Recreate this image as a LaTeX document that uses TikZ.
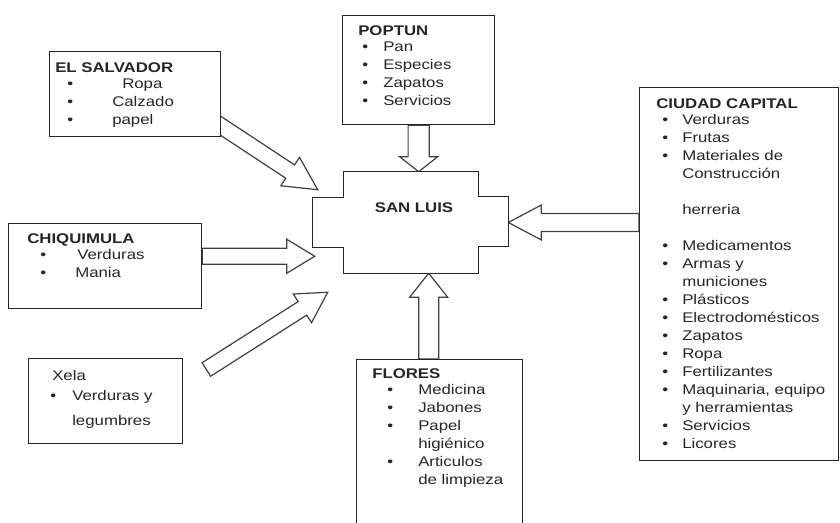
\documentclass[tikz,border=0pt]{standalone}
\usepackage{fontspec}
\setmainfont{Liberation Sans}[FakeStretch=1.2]
\usepackage{tikz}
\usetikzlibrary{calc}
\pgfdeclarelayer{background}
\pgfsetlayers{background,main}

\tikzset{
  outline/.style={draw=black!85, line width=1pt, fill=white},
  box/.style={outline, inner sep=0pt, anchor=north west},
  list/.style={anchor=north west, inner sep=0pt, align=left, text=black!85},
  fatline/.style={draw=black!75, line width=0.9pt, fill=white, line join=miter},
}
% bullet line: indent, bullet width, text
\newcommand{\bulitem}[3]{\hspace*{#1}\makebox[#2][l]{\textbullet}#3}
% hollow block arrow: tail, tip, half shaft, half head, head length
\newcommand{\fatarrow}[5]{%
  \coordinate (head) at ($(#2)!#5!(#1)$);
  \draw[fatline] ($(#1)!#3!90:(#2)$) -- ($(head)!#3!90:(#2)$) -- ($(head)!#4!90:(#2)$)
    -- (#2) -- ($(head)!#4!-90:(#2)$) -- ($(head)!#3!-90:(#2)$) -- ($(#1)!#3!-90:(#2)$) -- cycle;}

\begin{document}
\begin{tikzpicture}[x=0.75pt, y=-0.75pt, font=\fontsize{10.5pt}{13.5pt}\selectfont]
\useasboundingbox (0,0) rectangle (840,523);

% boxes
\node[box, minimum width=128.25pt, minimum height=63.75pt] (salvador) at (49,51) {};
\node[box, minimum width=114pt, minimum height=81.75pt] (poptun) at (342,15) {};
\node[box, minimum width=144.75pt, minimum height=63.75pt] (chiquimula) at (8,223) {};
\node[box, minimum width=115.5pt, minimum height=63.75pt] (xela) at (28,358) {};
\node[box, minimum width=149.25pt, minimum height=279.75pt] (capital) at (639,87) {};
\node[box, minimum width=124.5pt, minimum height=131.25pt] (flores) at (356,359) {};

% san luis
\node[minimum width=100.5pt, minimum height=75.75pt, inner sep=0pt] (sanluis) at (411,222.5) {};
\draw[outline] (sanluis.north west) -- (sanluis.north east) -- ++(0,25) -- ++(30,0) -- ++(0,50)
  -- ++(-30,0) -- (sanluis.south east) -- (sanluis.south west) -- ++(0,-26) -- ++(-31,0)
  -- ++(0,-50) -- ++(31,0) -- cycle;
\node[list, anchor=north] (sanluis label) at ([shift={(3,31)}]sanluis.north) {\textbf{SAN LUIS}};

% texts
\node[list] (salvador list) at ([shift={(6,11)}]salvador.north west) {%
  \textbf{EL SALVADOR}\\[-1.5pt]
  \bulitem{9pt}{41.25pt}{Ropa}\\
  \bulitem{9pt}{33.75pt}{Calzado}\\
  \bulitem{9pt}{33.75pt}{papel}};
\node[list] (poptun list) at ([shift={(16,10)}]poptun.north west) {%
  \textbf{POPTUN}\\[-1.5pt]
  \bulitem{3pt}{15.75pt}{Pan}\\
  \bulitem{3pt}{15.75pt}{Especies}\\
  \bulitem{3pt}{15.75pt}{Zapatos}\\
  \bulitem{3pt}{15.75pt}{Servicios}};
\node[list] (chiquimula list) at ([shift={(19,10)}]chiquimula.north west) {%
  \textbf{CHIQUIMULA}\\[-1.5pt]
  \bulitem{9.75pt}{27.75pt}{Verduras}\\
  \bulitem{9.75pt}{26.25pt}{Mania}};
\node[list] (xela list) at ([shift={(22,12)}]xela.north west) {%
  \hspace*{1.5pt}Xela\\[1.5pt]
  \bulitem{0pt}{16.5pt}{Verduras y}\\[5pt]
  \hspace*{16.5pt}legumbres};
\node[list] (capital list) at ([shift={(17,11)}]capital.north west) {%
  \textbf{CIUDAD CAPITAL}\\[-1.5pt]
  \bulitem{4.5pt}{15pt}{Verduras}\\
  \bulitem{4.5pt}{15pt}{Frutas}\\
  \bulitem{4.5pt}{15pt}{Materiales de}\\
  \hspace*{19.5pt}Construcción\\[13.5pt]
  \hspace*{19.5pt}herreria\\[13.5pt]
  \bulitem{4.5pt}{15pt}{Medicamentos}\\
  \bulitem{4.5pt}{15pt}{Armas y}\\
  \hspace*{19.5pt}municiones\\
  \bulitem{4.5pt}{15pt}{Plásticos}\\
  \bulitem{4.5pt}{15pt}{Electrodomésticos}\\
  \bulitem{4.5pt}{15pt}{Zapatos}\\
  \bulitem{4.5pt}{15pt}{Ropa}\\
  \bulitem{4.5pt}{15pt}{Fertilizantes}\\
  \bulitem{4.5pt}{15pt}{Maquinaria, equipo}\\
  \hspace*{19.5pt}y herramientas\\
  \bulitem{4.5pt}{15pt}{Servicios}\\
  \bulitem{4.5pt}{15pt}{Licores}};
\node[list] (flores list) at ([shift={(16,9)}]flores.north west) {%
  \textbf{FLORES}\\[-1.5pt]
  \bulitem{11.25pt}{23.25pt}{Medicina}\\
  \bulitem{11.25pt}{23.25pt}{Jabones}\\
  \bulitem{11.25pt}{23.25pt}{Papel}\\
  \hspace*{34.5pt}higiénico\\
  \bulitem{11.25pt}{23.25pt}{Articulos}\\
  \hspace*{34.5pt}de limpieza};

% arrow ends
\coordinate (pop tip) at (poptun.south |- sanluis.north);
\coordinate (flores tail) at ([shift={(-11,0)}]flores.north);
\coordinate (flores tip) at (flores tail |- sanluis.south);
\coordinate (sl east) at ([shift={(30,0)}]sanluis.east);
\coordinate (cap tail) at (capital.west |- sl east);
\coordinate (chiq tip) at ([shift={(-29,-17)}]sanluis.south west);
\coordinate (chiq tail) at (chiquimula.east |- chiq tip);
\coordinate (salv tail) at ([shift={(-15,-21)}]salvador.south east);
\coordinate (salv tip) at ([shift={(-26,18)}]sanluis.north west);
\coordinate (xela tail) at ([shift={(23,11.5)}]xela.north east);
\coordinate (xela tip) at ([shift={(-16,19)}]sanluis.south west);

\begin{pgfonlayer}{background}
\fatarrow{poptun.south}{pop tip}{7.9pt}{14.25pt}{11.25pt}
\fatarrow{flores tail}{flores tip}{7.5pt}{14.25pt}{18pt}
\fatarrow{cap tail}{sl east}{6.75pt}{13.1pt}{24.75pt}
\fatarrow{chiq tail}{chiq tip}{6pt}{12.75pt}{21pt}
\fatarrow{salv tail}{salv tip}{6pt}{12.75pt}{24.75pt}
\fatarrow{xela tail}{xela tip}{6pt}{12.75pt}{22.5pt}
\end{pgfonlayer}
\end{tikzpicture}
\end{document}
